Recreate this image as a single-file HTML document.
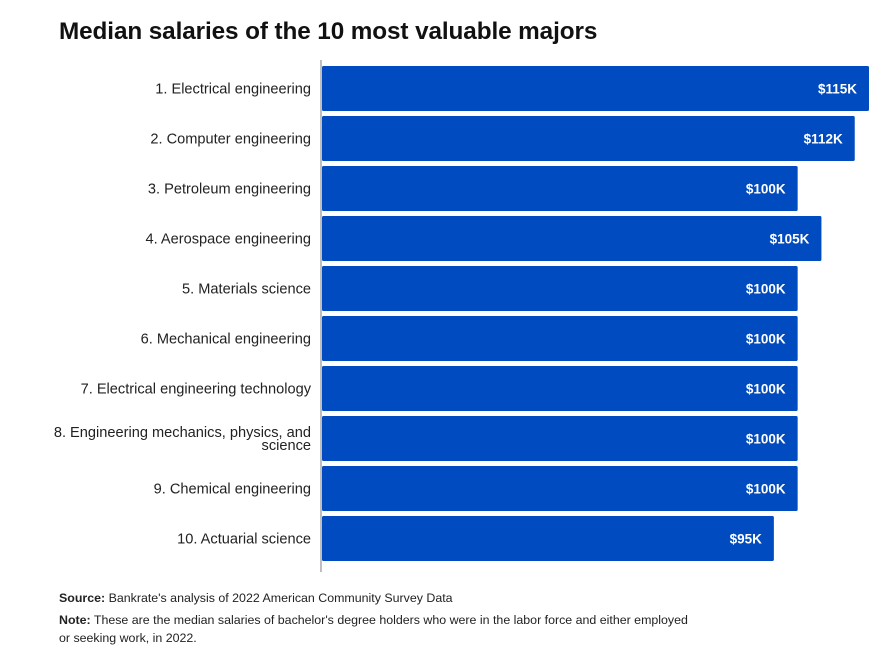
<!DOCTYPE html>
<html><head><meta charset="utf-8"><style>
body{margin:0;background:#fff;font-family:"Liberation Sans",sans-serif;}
#wrap{position:relative;width:889px;height:647px;overflow:hidden;}
.title{position:absolute;left:59px;top:18px;font-size:24.3px;font-weight:bold;color:#111;letter-spacing:-0.1px}
.foot{position:absolute;left:59px;font-size:12.4px;color:#222;}
</style></head><body>
<div id="wrap">
<div class="title">Median salaries of the 10 most valuable majors</div>
<svg id="svg" width="889" height="647" style="position:absolute;left:0;top:0"></svg>
<div class="foot" style="top:591px"><b>Source:</b> Bankrate's analysis of 2022 American Community Survey Data</div>
<div class="foot" style="top:611px;line-height:18px"><b>Note:</b> These are the median salaries of bachelor's degree holders who were in the labor force and either employed<br>or seeking work, in 2022.</div>
</div>
<script>
const categories=["1. Electrical engineering","2. Computer engineering","3. Petroleum engineering","4. Aerospace engineering","5. Materials science","6. Mechanical engineering","7. Electrical engineering technology","8. Engineering mechanics, physics, and|science","9. Chemical engineering","10. Actuarial science"];
const values=[115,112,100,105,100,100,100,100,100,95];
const valueLabels=["$115K","$112K","$100K","$105K","$100K","$100K","$100K","$100K","$100K","$95K"];
const NS="http://www.w3.org/2000/svg";
const svg=document.getElementById('svg');
const x0=322,pxPerK=547/115,rowTop=66,rowStep=50,barH=45;
const xs=v=>x0+v*pxPerK;
const ys=i=>rowTop+i*rowStep;
function mk(t,a){const e=document.createElementNS(NS,t);for(const k in a)e.setAttribute(k,a[k]);svg.appendChild(e);return e;}
categories.forEach((c,i)=>{
  const y=ys(i);
  const r=mk('rect',{x:x0,y:y,width:xs(values[i])-x0,height:barH,fill:'#004bbf',rx:1.5});
  
  
  const v=mk('text',{x:xs(values[i])-12,y:y+barH/2+5,'text-anchor':'end','font-size':'13.5','font-weight':'bold',fill:'#fff','font-family':'Liberation Sans, sans-serif'});
  v.textContent=valueLabels[i];
  
  
  const parts=c.split('|');
  const t=mk('text',{x:311,y:y+barH/2+5-(parts.length-1)*6.5,'text-anchor':'end','font-size':'14.6',fill:'#222','font-family':'Liberation Sans, sans-serif'});
  
  
  parts.forEach((p,j)=>{const s=document.createElementNS(NS,'tspan');s.setAttribute('x',311);if(j>0)s.setAttribute('dy','13');s.textContent=p;t.appendChild(s);});
});
const ax=mk('line',{x1:321,x2:321,y1:60,y2:572,stroke:'#aaa','stroke-width':1.5});


</script>
</body></html>
